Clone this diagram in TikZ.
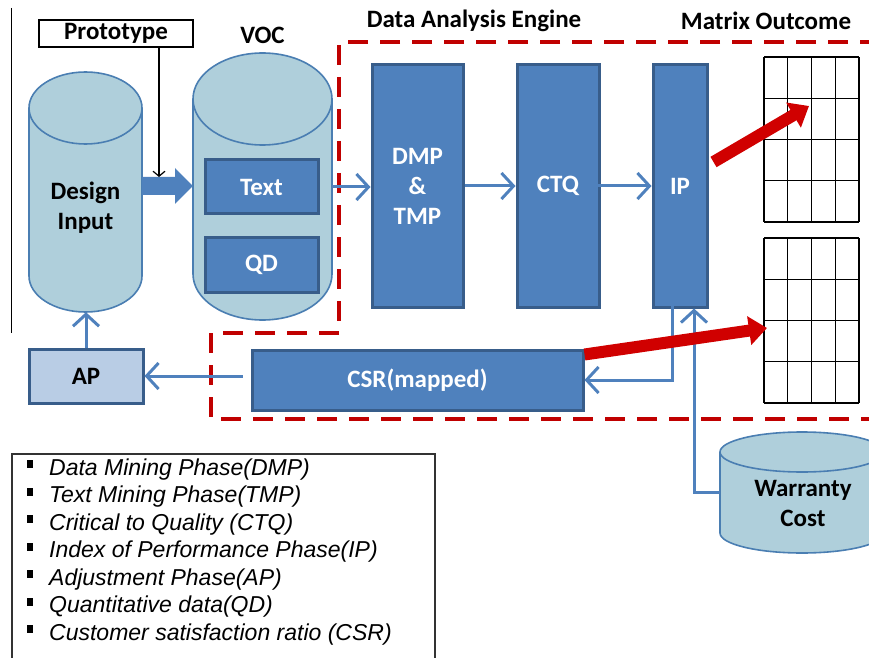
\documentclass[tikz,border=0pt]{standalone}
\usepackage{fontspec}
\usepackage{tikz}
\usetikzlibrary{arrows.meta,calc,positioning}
\setmainfont{Liberation Sans}
\newfontfamily\labelfont{Carlito}

\definecolor{boxblue}{HTML}{4F81BD}
\definecolor{boxedge}{HTML}{385D8A}
\definecolor{drumfill}{HTML}{AFCFDB}
\definecolor{drumedge}{HTML}{4A7EB2}
\definecolor{apfill}{HTML}{B9CDE5}
\definecolor{dashred}{HTML}{C00000}
\definecolor{arrowred}{HTML}{D00000}

\tikzset{
  phase/.style={draw=boxedge, line width=3pt, fill=boxblue, text=white,
    font=\labelfont\bfseries\fontsize{25}{30}\selectfont, align=center, inner sep=0pt},
  lbl/.style={font=\labelfont\bfseries\fontsize{25}{30}\selectfont, align=center, inner sep=0pt},
  drum/.style={draw=drumedge, line width=1.6pt, fill=drumfill},
  flow/.style={draw=boxblue, line width=3pt, -{Straight Barb[length=12pt,width=26pt,line width=3pt]}},
  bigarrow/.style={draw=arrowred, line width=12pt, -{Triangle[length=18pt,width=28pt]}},
  legendtext/.style={font=\itshape\fontsize{23}{27}\selectfont, inner sep=0pt, anchor=base west}
}

\begin{document}
\begin{tikzpicture}[x=1pt, y=1pt]
\useasboundingbox (0,0) rectangle (869,657);
\clip (0,0) rectangle (869,657);

% thin rule on the left
\draw[line width=1pt] (11,649) -- (11,324);

% dashed border of the analysis engine
\draw[dashred, line width=4pt, dash pattern=on 20pt off 12pt]
  (880,615) -- (339,615) -- (339,324) -- (211,324) -- (211,238) -- (880,238);

% cylinders: design input, VOC, warranty cost
\draw[drum] (29,549) -- (29,381) arc (180:360:56.5 and 36) -- (142,549);
\draw[drum] (85.5,549) ellipse (56.5 and 36);
\node[minimum width=113pt, minimum height=240pt, inner sep=0pt] (di) at (85.5,465) {};
\node[lbl] (ditext) at (85.5,449) {Design\\Input};

\draw[drum] (193,558) -- (193,383) arc (180:360:69.5 and 46) -- (332,558);
\draw[drum] (262.5,558) ellipse (69.5 and 46);
\node[minimum width=139pt, minimum height=267pt, inner sep=0pt] (voc) at (262.5,470.5) {};
\node[lbl, above=9pt of voc.north] (voctitle) {VOC};

\draw[drum] (720,205) -- (720,124) arc (180:360:82 and 20) -- (884,205);
\draw[drum] (802,205) ellipse (82 and 20);
\node[minimum width=164pt, minimum height=121pt, inner sep=0pt] (wc) at (802,164.5) {};
\node[lbl] (wctext) at (803,154) {Warranty\\Cost};

% boxes inside VOC
\node[phase, minimum width=113pt, minimum height=54pt] (txt) at (261.5,470) {Text};
\node[phase, minimum width=113pt, minimum height=55pt] (qd) at (261.5,392.5) {QD};

% prototype input
\node[draw, line width=1.2pt, lbl, minimum width=154pt, minimum height=27pt] (proto) at (116,623.5) {Prototype};

% block arrow into VOC
\fill[boxblue] (di.east |- 0,480) -- (175,480) -- (175,489) -- (voc.west |- 0,471)
  -- (175,453) -- (175,462) -- (di.east |- 0,462) -- cycle;
\coordinate (protoin) at (159,480);
\draw[line width=1.2pt, -{Straight Barb[length=5pt,width=12pt,line width=1.2pt]}] (proto.south -| protoin) -- (protoin);

% analysis phases
\node[phase, minimum width=91pt, minimum height=242pt] (dmp) at (417.5,471) {DMP\\\&\\TMP};
\node[phase, minimum width=82pt, minimum height=242pt] (ctq) at (558,471) {CTQ};
\node[phase, minimum width=54pt, minimum height=242pt] (ip) at (680,471) {IP};
\node[lbl] (engtitle) at (474,636) {Data Analysis Engine};
\node[lbl] (mattitle) at (766,636) {Matrix Outcome};

\node[phase, minimum width=331pt, minimum height=60pt] (csr) at (417.5,277) {CSR(mapped)};
\node[phase, fill=apfill, text=black, minimum width=114pt, minimum height=54pt] (ap) at (86,281) {AP};

% matrix outcome grids
\foreach \gy/\gname in {435/top, 254/bottom}{
  \begin{scope}[shift={(764,\gy)}]
    \draw[line width=1.2pt] (0,0) grid[xstep=23.75, ystep=41.25] (95,165);
    \coordinate (grid\gname) at (0,0);
  \end{scope}
}

% flows
\draw[flow] (voc.east |- txt.east) -- (dmp.west |- txt.east);
\draw[flow] (dmp.east) -- (ctq.west);
\draw[flow] ([xshift=-6pt]ctq.east) -- (ip.west);
\coordinate (ipout) at (672,449);
\draw[flow] (ipout) |- (csr.east);
\coordinate (wcout) at (720,165);
\coordinate (ipin) at (694,0);
\draw[flow] (wcout) -| (ipin |- ip.south);
\draw[flow] ([xshift=-8pt]csr.west |- ap.east) -- (ap.east);
\draw[flow] (ap.north) -- (ap.north |- di.south);

% outcome arrows
\coordinate (hitA) at (809,551);
\coordinate (hitB) at (767,329);
\draw[bigarrow] ([xshift=5pt, yshift=24pt]ip.east) -- (hitA);
\draw[bigarrow] ([yshift=-6pt]csr.north east) -- (hitB);

% legend
\draw[line width=1.2pt, draw=black!80] (12,-10) rectangle (435,203);
\foreach \txt [count=\i] in {Data Mining Phase(DMP), Text Mining Phase(TMP),
    Critical to Quality (CTQ), Index of Performance Phase(IP), Adjustment Phase(AP),
    Quantitative data(QD), Customer satisfaction ratio (CSR)}{
  \fill (26.5,{189-27.5*(\i-1)}) rectangle ++(6,8);
  \node[legendtext] (item\i) at (49,{182-27.5*(\i-1)}) {\txt};
}
\end{tikzpicture}
\end{document}
